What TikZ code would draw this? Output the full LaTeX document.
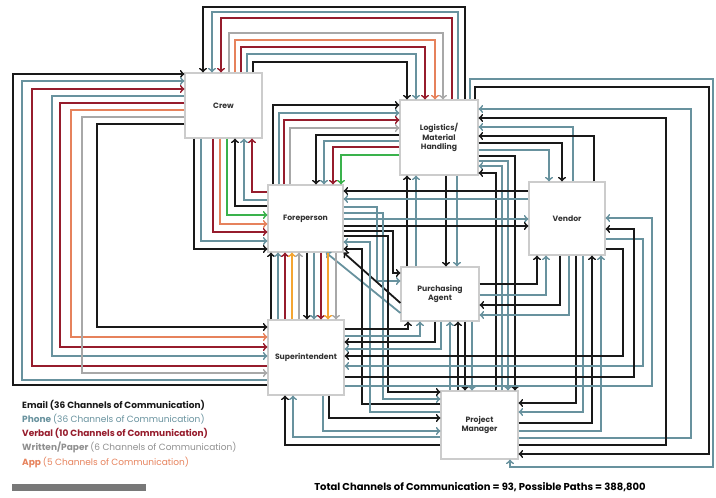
\documentclass[tikz,border=0pt]{standalone}
\usepackage{fontspec}
\setmainfont{Poppins}
\usetikzlibrary{arrows}

\definecolor{mailc}{RGB}{25,25,25}
\definecolor{phonec}{RGB}{104,146,158}
\definecolor{verbalc}{RGB}{150,28,44}
\definecolor{paperc}{RGB}{168,168,168}
\definecolor{appc}{RGB}{230,130,92}
\definecolor{appyc}{RGB}{244,165,50}
\definecolor{greenc}{RGB}{58,178,76}
\definecolor{boxc}{RGB}{204,204,204}
\definecolor{barc}{RGB}{120,120,120}

\begin{document}
\begin{tikzpicture}[x=1pt,y=-1pt,
  box/.style={draw=boxc,line width=1.2pt,fill=white,inner sep=0pt,align=center,
    text=black!80,font=\fontsize{7.7}{9.5}\selectfont\bfseries},
  link/.style={->,line width=1.8pt},
  mailln/.style={link,draw=mailc},
  phoneln/.style={link,draw=phonec},
  verballn/.style={link,draw=verbalc},
  paperln/.style={link,draw=paperc},
  appln/.style={link,draw=appc},
  appyln/.style={link,draw=appyc},
  greenln/.style={link,draw=greenc},
  legend/.style={anchor=west,inner sep=0pt,font=\fontsize{9}{11}\selectfont}]
\useasboundingbox (0,0) rectangle (716,498);

\node [box,minimum width=77pt,minimum height=65pt] (crew)  at (223.5,105.5) {Crew};
\node [box,minimum width=78pt,minimum height=75pt] (logi)  at (439,137.5) {Logistics/\\Material\\Handling};
\node [box,minimum width=76pt,minimum height=73pt] (vend)  at (567,218.5) {Vendor};
\node [box,minimum width=75pt,minimum height=67pt] (fore)  at (305.5,218.5) {Foreperson};
\node [box,minimum width=78pt,minimum height=54pt] (purch) at (440,294) {Purchasing\\Agent};
\node [box,minimum width=76pt,minimum height=75pt] (super) at (306,357.5) {Superintendent};
\node [box,minimum width=77pt,minimum height=68pt] (pm)    at (479.5,425) {Project\\Manager};

\draw [mailln]   (super.west |- 0,385) -| (13,74)  -- (crew.west |- 0,74);
\draw [phoneln]  (super.west |- 0,380) -| (22,81)  -- (crew.west |- 0,81);
\draw [verballn] (super.west |- 0,366) -| (32,89)  -- (crew.west |- 0,89);
\draw [phoneln]  (crew.west |- 0,96)  -| (52,356) -- (super.west |- 0,356);
\draw [verballn] (crew.west |- 0,103) -| (60,347) -- (super.west |- 0,347);
\draw [appln]    (crew.west |- 0,110) -| (71,337) -- (super.west |- 0,337);
\draw [paperln]  (crew.west |- 0,117) -| (82,373) -- (super.west |- 0,373);
\draw [mailln]   (crew.west |- 0,124) -| (97,327) -- (super.west |- 0,327);

\draw [mailln]   (crew.south -| 194,0) |- (fore.west |- 0,249);
\draw [phoneln]  (crew.south -| 201,0) |- (fore.west |- 0,241);
\draw [verballn] (crew.south -| 213,0) |- (fore.west |- 0,232);
\draw [appln]    (crew.south -| 220,0) |- (fore.west |- 0,224);
\draw [greenln]  (crew.south -| 227,0) |- (fore.west |- 0,215);
\draw [mailln]   (fore.west |- 0,206) -| (crew.south -| 235,0);
\draw [phoneln]  (fore.west |- 0,200) -| (crew.south -| 244,0);
\draw [verballn] (fore.west |- 0,192) -| (crew.south -| 252,0);

\draw [mailln]   (logi.north -| 465,0) |- (203,7)  -- (crew.north -| 203,0);
\draw [phoneln]  (logi.north -| 458,0) |- (212,12) -- (crew.north -| 212,0);
\draw [verballn] (logi.north -| 452,0) |- (221,18) -- (crew.north -| 221,0);
\draw [paperln]  (crew.north -| 229,0) |- (443,33) -- (logi.north -| 443,0);
\draw [appln]    (crew.north -| 235,0) |- (435,40) -- (logi.north -| 435,0);
\draw [verballn] (crew.north -| 241,0) |- (425,47) -- (logi.north -| 425,0);
\draw [phoneln]  (crew.north -| 247,0) |- (416,54) -- (logi.north -| 416,0);
\draw [mailln]   (crew.north -| 253,0) |- (407,62) -- (logi.north -| 407,0);

\draw [mailln]   (fore.north -| 273,0) |- (logi.west |- 0,105);
\draw [phoneln]  (fore.north -| 279,0) |- (logi.west |- 0,113);
\draw [verballn] (fore.north -| 284,0) |- (logi.west |- 0,120);
\draw [paperln]  (fore.north -| 290,0) |- (logi.west |- 0,128);
\draw [mailln]   (logi.west |- 0,135) -| (fore.north -| 316,0);
\draw [phoneln]  (logi.west |- 0,141) -| (fore.north -| 324,0);
\draw [verballn] (logi.west |- 0,147) -| (fore.north -| 333,0);
\draw [greenln]  (logi.west |- 0,155) -| (fore.north -| 341,0);

\draw [phoneln]  (vend.north -| 573,0) |- (logi.east |- 0,127);
\draw [mailln]   (vend.north -| 594,0) |- (logi.east |- 0,136);
\draw [mailln]   (logi.east |- 0,143) -| (vend.north -| 562,0);
\draw [phoneln]  (logi.east |- 0,150) -| (vend.north -| 549,0);

\draw [phoneln]  (pm.east |- 0,438) -| (691,109) -- (logi.east |- 0,109);
\draw [mailln]   (pm.east |- 0,445) -| (666,118) -- (logi.east |- 0,118);
\draw [mailln]   (logi.north -| 475,0) |- (709,87) |- (pm.east |- 0,454);
\draw [phoneln]  (logi.north -| 470,0) |- (713,79) |- (510,467) -- (pm.south -| 510,0);
\draw [mailln]   (logi.east |- 0,156) -| (pm.north -| 515,0);
\draw [phoneln]  (logi.east |- 0,161) -| (pm.north -| 508,0);
\draw [phoneln]  (pm.north -| 502,0) |- (logi.east |- 0,166);
\draw [mailln]   (pm.north -| 496,0) |- (logi.east |- 0,173);

\draw [mailln]   (purch.north -| 407,0) -- (logi.south -| 407,0);
\draw [phoneln]  (purch.north -| 416,0) -- (logi.south -| 416,0);
\draw [mailln]   (logi.south -| 446,0) -- (purch.north -| 446,0);
\draw [phoneln]  (logi.south -| 457,0) -- (purch.north -| 457,0);

\draw [mailln]   (vend.west |- 0,191) -- (fore.east |- 0,191);
\draw [phoneln]  (vend.west |- 0,199) -- (fore.east |- 0,199);
\draw [phoneln]  (fore.east |- 0,219) -- (vend.west |- 0,219);
\draw [mailln]   (fore.east |- 0,226) -- (vend.west |- 0,226);

\draw [phoneln]  (fore.east |- 0,207) -| (377,281) -- (purch.west |- 0,281);
\draw [mailln]   (fore.east |- 0,231) -| (393,273) -- (purch.west |- 0,273);
\draw [mailln]   (purch.west |- 0,303) -- (fore.south east);
\draw [phoneln]  (purch.west |- 0,313) -- (fore.south -| 326,0);

\draw [phoneln]  (fore.east |- 0,213) -| (383,399) -- (pm.west |- 0,399);
\draw [mailln]   (fore.east |- 0,236) -| (388,392) -- (pm.west |- 0,392);
\draw [mailln]   (pm.west |- 0,404) -| (362,249) -- (fore.east |- 0,249);
\draw [phoneln]  (pm.west |- 0,412) -| (370,242) -- (fore.east |- 0,242);

\draw [mailln]   (super.north -| 271,0) -- (fore.south -| 271,0);
\draw [phoneln]  (super.north -| 278,0) -- (fore.south -| 278,0);
\draw [verballn] (super.north -| 285,0) -- (fore.south -| 285,0);
\draw [appyln]   (super.north -| 292,0) -- (fore.south -| 292,0);
\draw [paperln]  (super.north -| 299,0) -- (fore.south -| 299,0);
\draw [mailln]   (fore.south -| 307,0) -- (super.north -| 307,0);
\draw [phoneln]  (fore.south -| 314,0) -- (super.north -| 314,0);
\draw [verballn] (fore.south -| 321,0) -- (super.north -| 321,0);
\draw [appyln]   (fore.south -| 328,0) -- (super.north -| 328,0);
\draw [paperln]  (fore.south -| 336,0) -- (super.north -| 336,0);

\draw [mailln]   (super.east |- 0,329) -| (purch.south -| 408,0);
\draw [phoneln]  (super.east |- 0,336) -| (purch.south -| 420,0);
\draw [mailln]   (purch.south -| 435,0) |- (super.east |- 0,342);
\draw [phoneln]  (purch.south -| 441,0) |- (super.east |- 0,349);

\draw [phoneln]  (pm.north -| 450,0) -- (purch.south -| 450,0);
\draw [mailln]   (pm.north -| 458,0) -- (purch.south -| 458,0);
\draw [mailln]   (purch.south -| 465,0) -- (pm.north -| 465,0);
\draw [phoneln]  (purch.south -| 472,0) -- (pm.north -| 472,0);

\draw [mailln]   (purch.east |- 0,284) -| (vend.south -| 537,0);
\draw [phoneln]  (purch.east |- 0,295) -| (vend.south -| 546,0);
\draw [mailln]   (vend.south -| 560,0) |- (purch.east |- 0,305);
\draw [phoneln]  (vend.south -| 569,0) |- (purch.east |- 0,315);

\draw [mailln]   (vend.south -| 576,0) |- (pm.east |- 0,403);
\draw [phoneln]  (vend.south -| 583,0) |- (pm.east |- 0,412);
\draw [mailln]   (pm.east |- 0,423) -| (vend.south -| 592,0);
\draw [phoneln]  (pm.east |- 0,431) -| (vend.south -| 601,0);

\draw [mailln]   (vend.east |- 0,249) -| (623,356) -- (super.east |- 0,356);
\draw [phoneln]  (vend.east |- 0,239) -| (643,366) -- (super.east |- 0,366);
\draw [mailln]   (super.east |- 0,377) -| (634,229) -- (vend.east |- 0,229);
\draw [phoneln]  (super.east |- 0,386) -| (652,218) -- (vend.east |- 0,218);

\draw [mailln]   (super.south -| 329,0) |- (pm.west |- 0,418);
\draw [phoneln]  (super.south -| 323,0) |- (pm.west |- 0,431);
\draw [phoneln]  (pm.west |- 0,437) -| (super.south -| 293,0);
\draw [mailln]   (pm.west |- 0,445) -| (super.south -| 285,0);

\node [legend,text=mailc] (lmail) at (22,405) {\bfseries Email (36 Channels of Communication)};
\node [legend,text=phonec] (lphone) at (22,419) {\bfseries Phone \mdseries(36 Channels of Communication)};
\node [legend,text=verbalc] (lverbal) at (22,433) {\bfseries Verbal (10 Channels of Communication)};
\node [legend,text=paperc!85!black] (lpaper) at (22,447) {\bfseries Written/Paper \mdseries(6 Channels of Communication)};
\node [legend,text=appc] (lapp) at (22,462) {\bfseries App \mdseries(5 Channels of Communication)};
\node [fill=barc,minimum width=134pt,minimum height=7pt,inner sep=0pt] (bar) at (79,487.5) {};
\node [inner sep=0pt,font=\fontsize{10}{12}\selectfont\bfseries] (total) at (480,487) {Total Channels of Communication = 93, Possible Paths = 388,800};
\end{tikzpicture}
\end{document}
